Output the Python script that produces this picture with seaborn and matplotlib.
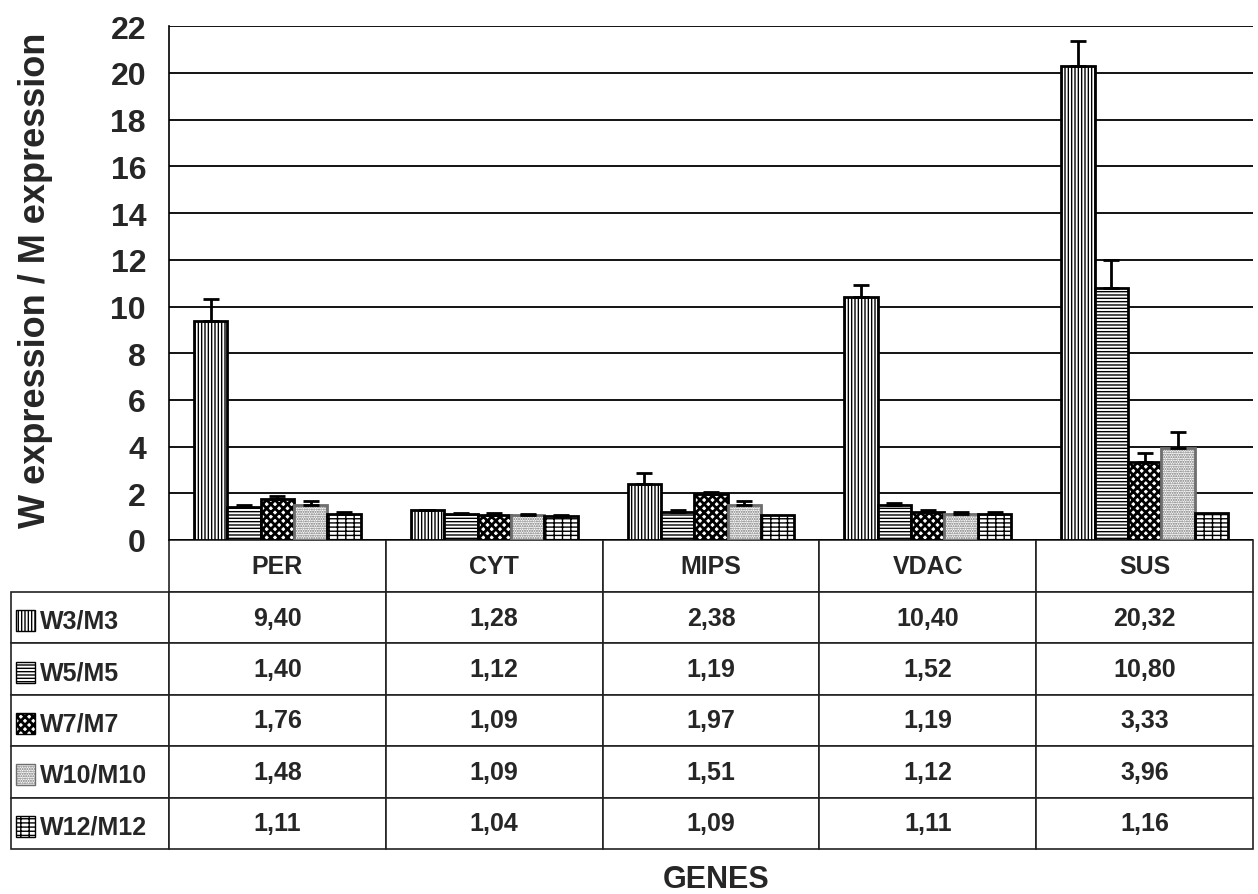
import numpy as np
import pandas as pd
import matplotlib
matplotlib.use("Agg")
import matplotlib.pyplot as plt
from matplotlib.table import Table
from matplotlib.patches import Rectangle
from matplotlib.font_manager import FontProperties
import seaborn as sns

# ---- data -------------------------------------------------------------
genes = ["PER", "CYT", "MIPS", "VDAC", "SUS"]
series = ["W3/M3", "W5/M5", "W7/M7", "W10/M10", "W12/M12"]

w3_m3 = [9.40, 1.28, 2.38, 10.40, 20.32]
w5_m5 = [1.40, 1.12, 1.19, 1.52, 10.80]
w7_m7 = [1.76, 1.09, 1.97, 1.19, 3.33]
w10_m10 = [1.48, 1.09, 1.51, 1.12, 3.96]
w12_m12 = [1.11, 1.04, 1.09, 1.11, 1.16]

err_w3 = [0.92, 0.02, 0.47, 0.50, 1.05]
err_w5 = [0.10, 0.02, 0.09, 0.08, 1.20]
err_w7 = [0.11, 0.05, 0.10, 0.11, 0.40]
err_w10 = [0.19, 0.01, 0.17, 0.07, 0.66]
err_w12 = [0.08, 0.01, 0.00, 0.08, 0.00]

y_ticks = list(range(0, 23, 2))

values = [w3_m3, w5_m5, w7_m7, w10_m10, w12_m12]
errors = [err_w3, err_w5, err_w7, err_w10, err_w12]

df = pd.DataFrame(
    [(g, s, v) for s, vals in zip(series, values) for g, v in zip(genes, vals)],
    columns=["gene", "series", "ratio"],
)

# ---- style ------------------------------------------------------------
sns.set_theme(style="white")
plt.rcParams["font.family"] = ["Liberation Sans", "DejaVu Sans"]
plt.rcParams["hatch.linewidth"] = 1.0

hatches = ["|||||", "-----", "xxxx", ".......", "----||"]
hatch_colors = ["black", "black", "black", "#6e6e6e", "black"]
hatch_widths = [1.0, 1.0, 2.0, 1.0, 1.0]


def style_hatch(patch, hatch, color, lw):
    patch.set_facecolor("white")
    patch.set_edgecolor(color)
    patch.set_hatch(hatch)
    if hasattr(patch, "set_hatchcolor"):
        patch.set_edgecolor("black")
        patch.set_hatchcolor(color)
    if hasattr(patch, "set_hatch_linewidth"):
        patch.set_hatch_linewidth(lw)


W, H = 1258, 895
fig = plt.figure(figsize=(W / 100, H / 100), dpi=100)
ax_l, ax_r, ax_t, ax_b = 169, 1253, 27.3, 541
ax = fig.add_axes([ax_l / W, 1 - ax_b / H, (ax_r - ax_l) / W, (ax_b - ax_t) / H])
AX_W, AX_H = ax_r - ax_l, ax_b - ax_t

sns.barplot(
    data=df, x="gene", y="ratio", hue="series",
    order=genes, hue_order=series,
    palette=["white"] * len(series), saturation=1,
    edgecolor="black", linewidth=2, width=0.77,
    errorbar=None, legend=False, ax=ax,
)

for cont, hatch, hc, hw in zip(ax.containers, hatches, hatch_colors, hatch_widths):
    for bar in cont:
        style_hatch(bar, hatch, hc, hw)
        bar.set_linewidth(2)

# upper error bars
for cont, vals, errs in zip(ax.containers, values, errors):
    xs = np.array([b.get_x() + b.get_width() / 2 for b in cont])
    v = np.array(vals)
    e = np.array(errs)
    m = e > 0
    ax.errorbar(xs[m], v[m], yerr=[np.zeros(m.sum()), e[m]], fmt="none",
                ecolor="black", elinewidth=2, capsize=5.6, capthick=2, zorder=5)

ax.set_ylim(0, 22)
ax.set_xlim(-0.5, len(genes) - 0.5)
ax.set_yticks(y_ticks)
ax.set_yticklabels([str(t) for t in y_ticks], fontsize=23, fontweight="bold")
ax.tick_params(axis="y", length=0, pad=16.5)
ax.set_xticks([])
ax.set_xlabel("")
ax.set_ylabel("")
ax.set_axisbelow(True)
ax.yaxis.grid(True, color="black", linewidth=1.3)
for side in ["top", "right"]:
    ax.spines[side].set_visible(False)
ax.spines["left"].set_color("black")
ax.spines["left"].set_linewidth(1.2)
ax.spines["bottom"].set_visible(False)

# ---- data table under the bars -----------------------------------------
label_w = (ax_l - 10.7) / AX_W
col_w = 1.0 / len(genes)
head_h = 52 / AX_H
row_h = 51.4 / AX_H
tab_h = head_h + row_h * len(series)

fp = FontProperties(family="Liberation Sans", weight="bold", size=18)
# bbox covers the gene columns; the label column sits to its left
tb = Table(ax, bbox=[0, -tab_h, 1, tab_h])
for j, g in enumerate(genes):
    tb.add_cell(0, j, col_w, head_h, text=g, loc="center", fontproperties=fp)
for i, (s, vals) in enumerate(zip(series, values), start=1):
    tb.add_cell(i, -1, label_w, row_h, text="", loc="left", fontproperties=fp)
    for j, v in enumerate(vals):
        tb.add_cell(i, j, col_w, row_h, text=f"{v:.2f}".replace(".", ","),
                    loc="center", fontproperties=fp)
tb.auto_set_font_size(False)
tb.set_fontsize(18)
for cell in tb.get_celld().values():
    cell.set_edgecolor("#222222")
    cell.set_linewidth(1.2)
    cell.set_facecolor("white")
ax.add_table(tb)

# series labels with pattern swatches
for i, (s, hatch, hc, hw) in enumerate(zip(series, hatches, hatch_colors, hatch_widths)):
    yc = -(head_h + row_h * (i + 0.5)) - 3 / AX_H
    sw = Rectangle(((15.7 - ax_l) / AX_W, yc - 10.5 / AX_H), 19.5 / AX_W, 21 / AX_H,
                   transform=ax.transAxes, clip_on=False, linewidth=1.0)
    style_hatch(sw, hatch, hc, hw)
    ax.add_patch(sw)
    ax.text((40 - ax_l) / AX_W, yc, s, transform=ax.transAxes, ha="left",
            va="center", fontsize=18, fontweight="bold")

fig.text(716.5 / W, 1 - 880 / H, "GENES", ha="center", va="center",
         fontsize=22, fontweight="bold")
fig.text(36 / W, 1 - 280 / H, "W expression / M expression", rotation=90,
         ha="center", va="center", fontsize=26, fontweight="bold")

fig.savefig("out.png", dpi=100, facecolor="white")
